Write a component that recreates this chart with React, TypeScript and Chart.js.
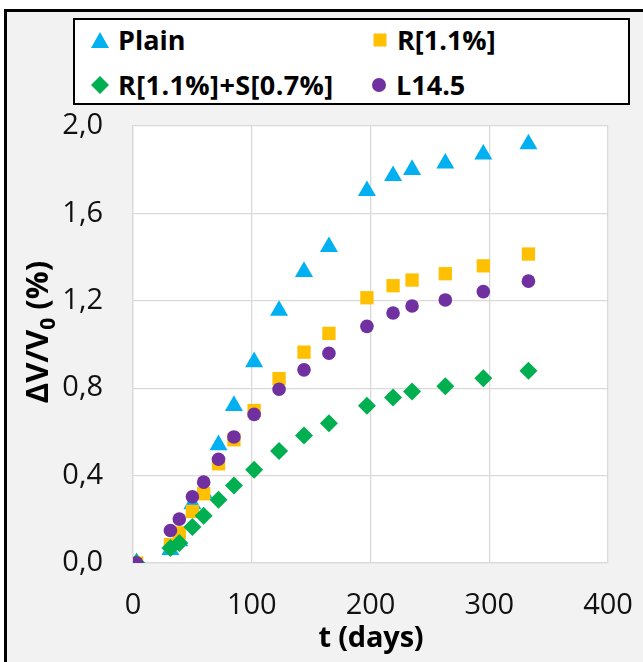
import React, { useEffect, useRef } from "react";
import { Chart, registerables } from "chart.js";

Chart.register(...registerables);

const seriesNames = ["Plain", "R[1.1%]", "R[1.1%]+S[0.7%]", "L14.5"];
const seriesColors = ["#00b0f0", "#ffc000", "#00b050", "#7030a0"];
const days = [3, 31.5, 39, 50, 59.5, 72, 85, 102, 123, 144, 165, 197, 219, 235, 263, 295, 333];
const plainValues = [0, 0.06, 0.1, 0.27, 0.32, 0.54, 0.72, 0.92, 1.155, 1.333, 1.447, 1.703, 1.772, 1.8, 1.829, 1.87, 1.917];
const rValues = [0, 0.084, 0.138, 0.236, 0.317, 0.454, 0.564, 0.698, 0.844, 0.965, 1.051, 1.214, 1.269, 1.295, 1.324, 1.36, 1.414];
const rsValues = [0, 0.069, 0.091, 0.165, 0.216, 0.29, 0.355, 0.427, 0.513, 0.583, 0.64, 0.72, 0.757, 0.785, 0.809, 0.846, 0.88];
const lValues = [0, 0.149, 0.201, 0.303, 0.37, 0.475, 0.577, 0.68, 0.795, 0.884, 0.96, 1.083, 1.144, 1.176, 1.204, 1.242, 1.29];
const xTicks = [0, 100, 200, 300, 400];
const yTicks = [0, 0.4, 0.8, 1.2, 1.6, 2.0];
const xTitle = "t (days)";
const yTitleMain = "ΔV/V";
const yTitleSub = "0";
const yTitleTail = " (%)";

const FONT = '"Open Sans", "DejaVu Sans", sans-serif';

const toPoints = (vals: number[]) => days.map((d, i) => ({ x: d, y: vals[i] }));

const titlesPlugin = {
  id: "titles",
  beforeDraw(chart: any) {
    const { ctx, chartArea } = chart;
    ctx.save();
    ctx.fillStyle = "#ffffff";
    ctx.fillRect(chartArea.left, chartArea.top, chartArea.right - chartArea.left, chartArea.bottom - chartArea.top);
    ctx.restore();
  },
  afterDraw(chart: any) {
    const { ctx } = chart;
    ctx.save();
    ctx.fillStyle = "#000000";
    // x title
    ctx.font = `bold 29px ${FONT}`;
    try {
      (ctx as any).letterSpacing = "-0.2px";
    } catch (e) {}
    ctx.textAlign = "center";
    ctx.textBaseline = "middle";
    ctx.fillText(xTitle, 371, 639);
    try {
      (ctx as any).letterSpacing = "0px";
    } catch (e) {}
    // y title with subscript
    ctx.translate(36.5, 332);
    ctx.rotate(-Math.PI / 2);
    ctx.textAlign = "left";
    ctx.textBaseline = "alphabetic";
    const mainFont = `bold 31px ${FONT}`;
    const subFont = `bold 21px ${FONT}`;
    ctx.font = mainFont;
    const w1 = ctx.measureText(yTitleMain).width;
    const w3 = ctx.measureText(yTitleTail).width;
    ctx.font = subFont;
    const w2 = ctx.measureText(yTitleSub).width;
    let x = -(w1 + w2 + w3) / 2;
    const base = 11;
    ctx.font = mainFont;
    ctx.fillText(yTitleMain, x, base);
    x += w1;
    ctx.font = subFont;
    ctx.fillText(yTitleSub, x, base + 7);
    x += w2;
    ctx.font = mainFont;
    ctx.fillText(yTitleTail, x, base);
    ctx.restore();
  },
};

function Marker({ kind, color }: { kind: string; color: string }) {
  if (kind === "triangle")
    return (
      <svg width="20" height="18" style={{ display: "block" }}>
        <polygon points="10,1 19,17 1,17" fill={color} />
      </svg>
    );
  if (kind === "square")
    return (
      <svg width="20" height="18" style={{ display: "block" }}>
        <rect x="3.5" y="2.5" width="13" height="13" fill={color} />
      </svg>
    );
  if (kind === "diamond")
    return (
      <svg width="20" height="18" style={{ display: "block" }}>
        <polygon points="10,0 19,9 10,18 1,9" fill={color} />
      </svg>
    );
  return (
    <svg width="20" height="18" style={{ display: "block" }}>
      <circle cx="10" cy="9" r="7" fill={color} />
    </svg>
  );
}

export default function App() {
  const canvasRef = useRef<HTMLCanvasElement | null>(null);

  useEffect(() => {
    const canvas = canvasRef.current;
    if (!canvas) return;
    const mk = (i: number, vals: number[], style: string, radius: number, order: number) => ({
      label: seriesNames[i],
      data: toPoints(vals),
      pointStyle: style,
      pointRadius: radius,
      pointHoverRadius: radius,
      pointBackgroundColor: seriesColors[i],
      pointBorderColor: seriesColors[i],
      pointBorderWidth: 0,
      backgroundColor: seriesColors[i],
      borderColor: seriesColors[i],
      showLine: false,
      order,
    });
    const chart = new Chart(canvas, {
      type: "scatter",
      data: {
        datasets: [
          mk(0, plainValues, "triangle", 10.4, 4),
          mk(1, rValues, "rect", 9.4, 3),
          mk(2, rsValues, "rectRot", 9, 2),
          mk(3, lValues, "circle", 6.8, 1),
        ],
      },
      options: {
        responsive: false,
        animation: false,
        events: [],
        layout: { padding: { top: 126, right: 35, left: 0, bottom: 0 } },
        plugins: { legend: { display: false }, tooltip: { enabled: false } },
        scales: {
          x: {
            type: "linear",
            min: 0,
            max: 400,
            afterFit: (s: any) => {
              s.height = 99;
              s.paddingLeft = 0;
              s.paddingRight = 0;
            },
            afterBuildTicks: (s: any) => {
              s.ticks = xTicks.map((v) => ({ value: v }));
            },
            grid: { color: "#d9d9d9", lineWidth: 1.3, drawTicks: false },
            border: { color: "#d9d9d9", width: 1.3 },
            ticks: {
              padding: 25,
              color: "#111111",
              font: { family: FONT, size: 29 },
              callback: (v: any) => String(v),
            },
          },
          y: {
            type: "linear",
            min: 0,
            max: 2,
            afterFit: (s: any) => {
              s.width = 133;
              s.paddingTop = 0;
              s.paddingBottom = 0;
            },
            afterBuildTicks: (s: any) => {
              s.ticks = yTicks.map((v) => ({ value: v }));
            },
            grid: { color: "#d9d9d9", lineWidth: 1.3, drawTicks: false },
            border: { color: "#d9d9d9", width: 1.3 },
            ticks: {
              padding: 30,
              color: "#111111",
              font: { family: FONT, size: 29 },
              callback: (v: any) => Number(v).toFixed(1).replace(".", ","),
            },
          },
        },
      },
      plugins: [titlesPlugin],
    } as any);
    return () => chart.destroy();
  }, []);

  const textStyle: React.CSSProperties = {
    position: "absolute",
    fontFamily: FONT,
    fontWeight: 700,
    fontSize: 27,
    lineHeight: "27px",
    color: "#000",
    whiteSpace: "nowrap",
  };

  return (
    <div style={{ position: "fixed", left: 0, top: 0, width: 643, height: 662, overflow: "hidden", background: "#fff" }}>
      <div
        style={{
          position: "absolute",
          left: 4,
          top: 9,
          width: 800,
          height: 800,
          background: "#f2f2f2",
          borderLeft: "3px solid #000",
          borderTop: "3px solid #000",
        }}
      />
      <canvas ref={canvasRef} width={643} height={662} style={{ position: "absolute", left: 0, top: 0, width: 643, height: 662 }} />
      <div
        style={{
          position: "absolute",
          left: 73,
          top: 18,
          width: 557,
          height: 87,
          boxSizing: "border-box",
          border: "2px solid #000",
          background: "#fff",
        }}
      />
      <div style={{ position: "absolute", left: 90, top: 31 }}><Marker kind="triangle" color={seriesColors[0]} /></div>
      <div style={{ ...textStyle, left: 118, top: 26 }}>{seriesNames[0]}</div>
      <div style={{ position: "absolute", left: 370, top: 31 }}><Marker kind="square" color={seriesColors[1]} /></div>
      <div style={{ ...textStyle, left: 397, top: 26 }}>{seriesNames[1]}</div>
      <div style={{ position: "absolute", left: 90, top: 76 }}><Marker kind="diamond" color={seriesColors[2]} /></div>
      <div style={{ ...textStyle, left: 118, top: 71, letterSpacing: "0.4px" }}>{seriesNames[2]}</div>
      <div style={{ position: "absolute", left: 369, top: 76 }}><Marker kind="circle" color={seriesColors[3]} /></div>
      <div style={{ ...textStyle, left: 396, top: 71 }}>{seriesNames[3]}</div>
    </div>
  );
}
